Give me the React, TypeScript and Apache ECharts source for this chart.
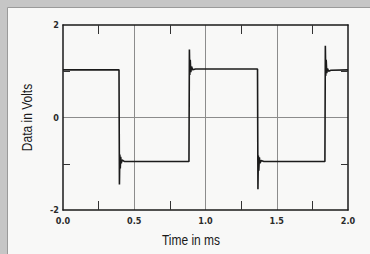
import React, { useEffect, useRef } from "react";
import * as echarts from "echarts";

// Waveform samples (time in ms, volts)
const timeMs = [
  0, 0.393, 0.396, 0.399, 0.402, 0.405, 0.409, 0.414, 0.43,
  0.884, 0.887, 0.89, 0.893, 0.897, 0.902, 0.91, 0.93,
  1.365, 1.368, 1.371, 1.374, 1.378, 1.383, 1.39, 1.41,
  1.838, 1.841, 1.844, 1.847, 1.851, 1.856, 1.864, 1.88, 2.0,
];
const volts = [
  1.03, 1.03, -1.45, -0.8, -1.1, -0.85, -0.99, -0.92, -0.95,
  -0.95, 1.47, 0.92, 1.25, 0.98, 1.1, 1.03, 1.05,
  1.05, -1.55, -0.82, -1.15, -0.86, -0.99, -0.93, -0.95,
  -0.95, 1.55, 0.9, 1.25, 0.96, 1.06, 1.0, 1.02, 1.03,
];
const xTicks = [0, 0.5, 1.0, 1.5, 2.0];
const yTicks = [-2, 0, 2];
const xTitle = "Time in ms";
const yTitle = "Data in Volts";

const narrow = "'Liberation Sans Narrow', 'DejaVu Sans Condensed', 'Liberation Sans', sans-serif";

export default function App() {
  const ref = useRef<HTMLDivElement>(null);
  useEffect(() => {
    if (!ref.current) return;
    const chart = echarts.init(ref.current, undefined, { renderer: "svg" });
    const data = timeMs.map((t, i) => [t, volts[i]]);
    const xMin = xTicks[0];
    const xMax = xTicks[xTicks.length - 1];
    const xInt = xTicks[1] - xTicks[0];
    const yMin = yTicks[0];
    const yMax = yTicks[yTicks.length - 1];
    const yInt = yTicks[1] - yTicks[0];
    const border = { show: true, onZero: false, lineStyle: { color: "#1a1a1a", width: 1.5 } };
    const minor = (len: number) => ({
      show: true,
      splitNumber: 2,
      length: len,
      lineStyle: { color: "#333", width: 1 },
    });
    const grid = { show: true, lineStyle: { color: "#8c8c8c", width: 1 }, showMinLine: false, showMaxLine: false };
    const label = { color: "#2a2a2a", fontSize: 9, fontWeight: "bold" as const, fontFamily: narrow };
    chart.setOption({
      animation: false,
      backgroundColor: "transparent",
      graphic: [
        {
          type: "rect",
          z: -10,
          shape: { x: 7.5, y: 7.5, width: 370, height: 260 },
          style: { fill: "#f8f8f7", stroke: "#9a9a9a", lineWidth: 1 },
        },
        {
          type: "text",
          x: 191,
          y: 240,
          scaleX: 0.8,
          style: {
            text: xTitle,
            fontSize: 15,
            fontFamily: "'Liberation Sans', sans-serif",
            fill: "#1a1a1a",
            textAlign: "center",
            textVerticalAlign: "middle",
          },
        },
        {
          type: "text",
          x: 27,
          y: 117.5,
          rotation: Math.PI / 2,
          scaleX: 0.8,
          style: {
            text: yTitle,
            fontSize: 15,
            fontFamily: "'Liberation Sans', sans-serif",
            fill: "#1a1a1a",
            textAlign: "center",
            textVerticalAlign: "middle",
          },
        },
      ],
      grid: { left: 63, top: 25, width: 285, height: 185, show: false },
      xAxis: [
        {
          type: "value",
          position: "bottom",
          min: xMin,
          max: xMax,
          interval: xInt,
          axisLine: border,
          axisTick: { show: false, inside: true },
          minorTick: minor(9),
          splitLine: grid,
          axisLabel: { ...label, margin: 6, formatter: (v: number) => v.toFixed(1) },
        },
        {
          type: "value",
          position: "top",
          min: xMin,
          max: xMax,
          interval: xInt,
          axisLine: border,
          axisTick: { show: false, inside: true },
          minorTick: minor(9),
          splitLine: { show: false },
          axisLabel: { show: false },
        },
      ],
      yAxis: [
        {
          type: "value",
          position: "left",
          min: yMin,
          max: yMax,
          interval: yInt,
          axisLine: border,
          axisTick: { show: false, inside: true },
          minorTick: minor(7),
          splitLine: grid,
          axisLabel: { ...label, margin: 4 },
        },
        {
          type: "value",
          position: "right",
          min: yMin,
          max: yMax,
          interval: yInt,
          axisLine: border,
          axisTick: { show: false, inside: true },
          minorTick: minor(7),
          splitLine: { show: false },
          axisLabel: { show: false },
        },
      ],
      series: [
        {
          type: "line",
          xAxisIndex: 0,
          yAxisIndex: 0,
          data,
          symbol: "none",
          lineStyle: { color: "#1b1b1b", width: 1.6 },
          z: 5,
        },
      ],
    });
    return () => chart.dispose();
  }, []);
  return (
    <div
      ref={ref}
      style={{ position: "absolute", left: 0, top: 0, width: 370, height: 254, background: "#c6c6c6" }}
    />
  );
}
